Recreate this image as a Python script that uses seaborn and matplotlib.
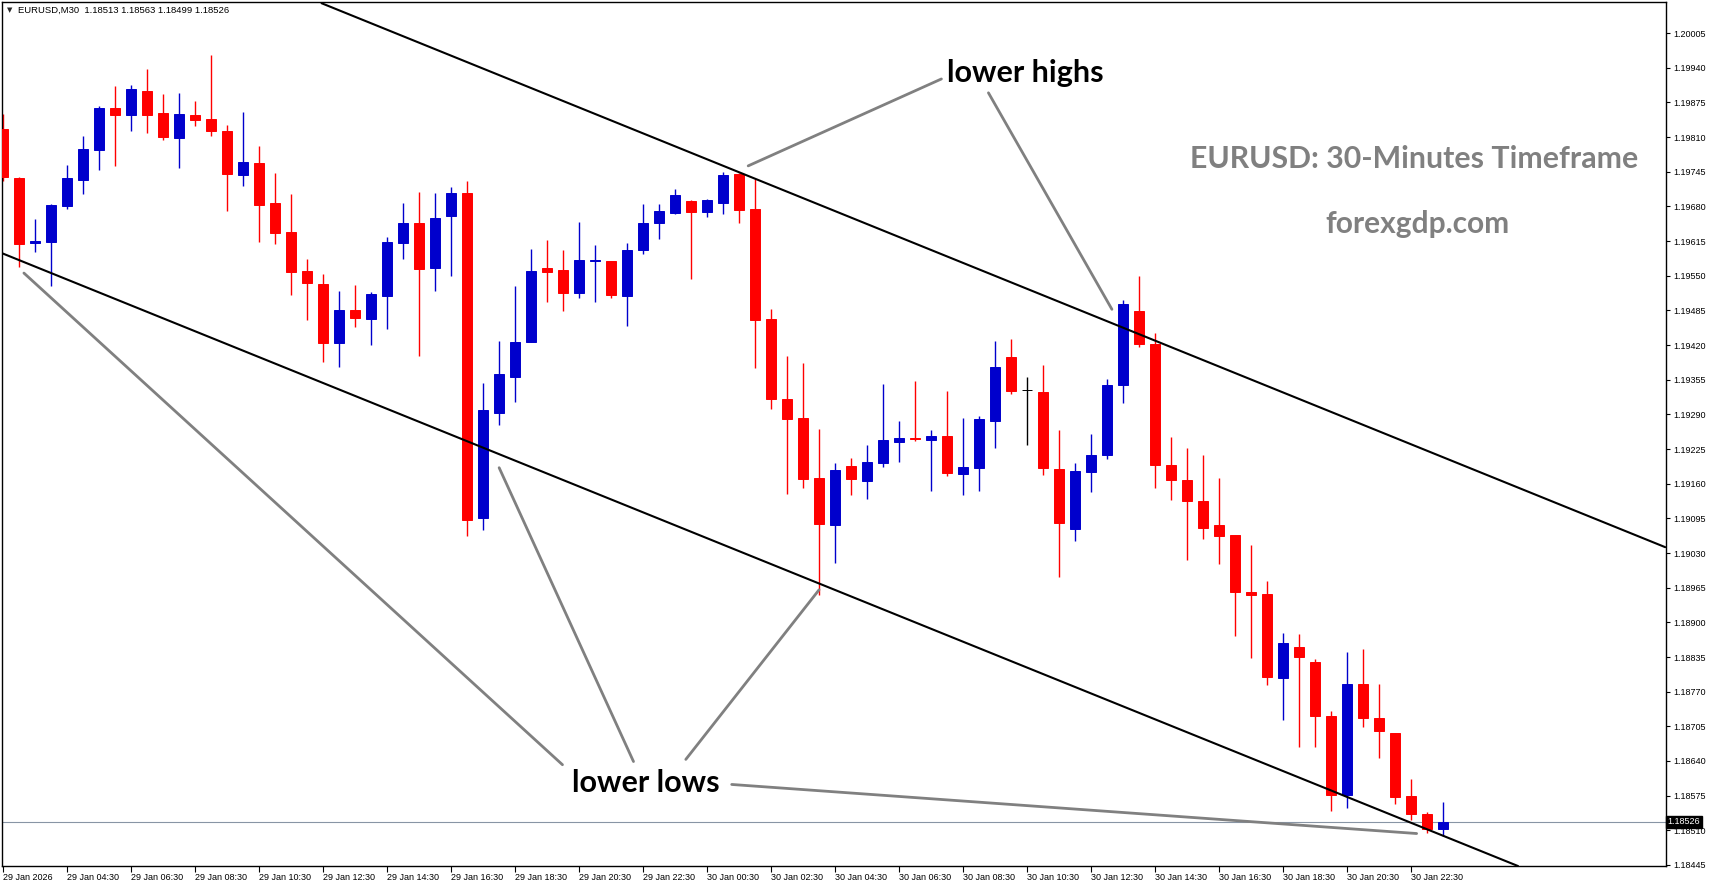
import numpy as np
import matplotlib
matplotlib.use('Agg')
import matplotlib.pyplot as plt
import seaborn as sns

# EURUSD M30 candles, 29 Jan 02:30 -> 30 Jan 23:30
opens = [1.19825, 1.19733, 1.19612, 1.19613, 1.19681, 1.19730, 1.19786, 1.19864, 1.19852, 1.19896,
         1.19855, 1.19808, 1.19851, 1.19844, 1.19821, 1.19739, 1.19761, 1.19686, 1.19632, 1.19559,
         1.19534, 1.19424, 1.19486, 1.19469, 1.19512, 1.19611, 1.19649, 1.19564, 1.19662, 1.19705,
         1.19096, 1.19293, 1.19361, 1.19426, 1.19564, 1.19561, 1.19518, 1.19578, 1.19578, 1.19512,
         1.19599, 1.19649, 1.19668, 1.19690, 1.19670, 1.19687, 1.19741, 1.19675, 1.19469, 1.19319,
         1.19283, 1.19171, 1.19083, 1.19193, 1.19165, 1.19198, 1.19238, 1.19246, 1.19242, 1.19249,
         1.19178, 1.19189, 1.19278, 1.19398, 1.19336, 1.19332, 1.19188, 1.19075, 1.19182, 1.19214,
         1.19346, 1.19483, 1.19422, 1.19195, 1.19167, 1.19127, 1.19082, 1.19064, 1.18957, 1.18953,
         1.18796, 1.18854, 1.18826, 1.18724, 1.18576, 1.18784, 1.18721, 1.18692, 1.18574, 1.18540,
         1.18513]
highs = [1.19854, 1.19735, 1.19656, 1.19685, 1.19757, 1.19812, 1.19868, 1.19906, 1.19908, 1.19937,
         1.19890, 1.19892, 1.19877, 1.19964, 1.19832, 1.19857, 1.19793, 1.19742, 1.19703, 1.19581,
         1.19553, 1.19521, 1.19532, 1.19519, 1.19622, 1.19686, 1.19707, 1.19705, 1.19716, 1.19728,
         1.19349, 1.19428, 1.19531, 1.19600, 1.19617, 1.19598, 1.19651, 1.19608, 1.19578, 1.19611,
         1.19684, 1.19684, 1.19713, 1.19692, 1.19694, 1.19744, 1.19742, 1.19731, 1.19487, 1.19400,
         1.19386, 1.19263, 1.19199, 1.19209, 1.19233, 1.19347, 1.19278, 1.19353, 1.19261, 1.19334,
         1.19283, 1.19287, 1.19428, 1.19431, 1.19360, 1.19383, 1.19261, 1.19199, 1.19253, 1.19356,
         1.19504, 1.19549, 1.19442, 1.19247, 1.19227, 1.19214, 1.19171, 1.19064, 1.19045, 1.18977,
         1.18880, 1.18878, 1.18831, 1.18734, 1.18844, 1.18850, 1.18784, 1.18692, 1.18606, 1.18545,
         1.18563]
lows = [1.19728, 1.19567, 1.19594, 1.19530, 1.19675, 1.19703, 1.19748, 1.19755, 1.19821, 1.19817,
        1.19804, 1.19752, 1.19830, 1.19812, 1.19671, 1.19718, 1.19613, 1.19609, 1.19514, 1.19467,
        1.19389, 1.19379, 1.19454, 1.19420, 1.19450, 1.19581, 1.19399, 1.19521, 1.19549, 1.19061,
        1.19074, 1.19271, 1.19314, 1.19426, 1.19501, 1.19484, 1.19509, 1.19501, 1.19509, 1.19456,
        1.19591, 1.19619, 1.19666, 1.19544, 1.19661, 1.19666, 1.19649, 1.19377, 1.19301, 1.19141,
        1.19151, 1.18951, 1.19011, 1.19139, 1.19131, 1.19191, 1.19201, 1.19240, 1.19146, 1.19174,
        1.19139, 1.19146, 1.19227, 1.19328, 1.19232, 1.19176, 1.18985, 1.19052, 1.19144, 1.19206,
        1.19312, 1.19416, 1.19152, 1.19129, 1.19017, 1.19056, 1.19009, 1.18874, 1.18833, 1.18782,
        1.18717, 1.18666, 1.18666, 1.18547, 1.18552, 1.18704, 1.18646, 1.18560, 1.18530, 1.18505,
        1.18499]
closes = [1.19736, 1.19610, 1.19615, 1.19682, 1.19733, 1.19787, 1.19864, 1.19852, 1.19900, 1.19852,
          1.19810, 1.19853, 1.19842, 1.19821, 1.19741, 1.19763, 1.19682, 1.19630, 1.19557, 1.19536,
          1.19424, 1.19486, 1.19471, 1.19516, 1.19613, 1.19649, 1.19562, 1.19658, 1.19705, 1.19092,
          1.19298, 1.19366, 1.19426, 1.19559, 1.19557, 1.19518, 1.19579, 1.19580, 1.19514, 1.19598,
          1.19649, 1.19671, 1.19701, 1.19670, 1.19692, 1.19739, 1.19673, 1.19467, 1.19319, 1.19282,
          1.19169, 1.19085, 1.19186, 1.19168, 1.19201, 1.19242, 1.19246, 1.19244, 1.19249, 1.19180,
          1.19191, 1.19281, 1.19379, 1.19334, 1.19336, 1.19189, 1.19086, 1.19184, 1.19214, 1.19345,
          1.19497, 1.19422, 1.19196, 1.19167, 1.19127, 1.19077, 1.19062, 1.18957, 1.18952, 1.18798,
          1.18861, 1.18835, 1.18724, 1.18576, 1.18784, 1.18721, 1.18696, 1.18572, 1.18540, 1.18513,
          1.18526]

time_labels = ['29 Jan 2026', '29 Jan 04:30', '29 Jan 06:30', '29 Jan 08:30', '29 Jan 10:30',
               '29 Jan 12:30', '29 Jan 14:30', '29 Jan 16:30', '29 Jan 18:30', '29 Jan 20:30',
               '29 Jan 22:30', '30 Jan 00:30', '30 Jan 02:30', '30 Jan 04:30', '30 Jan 06:30',
               '30 Jan 08:30', '30 Jan 10:30', '30 Jan 12:30', '30 Jan 14:30', '30 Jan 16:30',
               '30 Jan 18:30', '30 Jan 20:30', '30 Jan 22:30']

# channel lines (bar index, price)
upper_x = [19.9, 103.9]
upper_y = [1.20061, 1.19041]
lower_x = [-0.06, 94.7]
lower_y = [1.19592, 1.18443]

# annotation pointers: label point -> target point
highs_ptr = [[(58.65, 1.19919), (46.57, 1.19756)],
             [(61.59, 1.19893), (69.31, 1.19487)]]
lows_ptr = [[(34.96, 1.18633), (1.29, 1.19555)],
            [(39.40, 1.18639), (31.00, 1.19190)],
            [(42.67, 1.18643), (51.00, 1.18961)],
            [(45.54, 1.18596), (88.36, 1.18504)]]

bull = '#0000CC'
bear = '#FF0000'

sns.set_theme(style='white')
plt.rcParams['font.family'] = ['Liberation Sans', 'DejaVu Sans']

fig = plt.figure(figsize=(17.13, 8.88), dpi=100)
ax = fig.add_axes([2 / 1713, 22 / 888, 1664 / 1713, 864 / 888])

x = np.arange(len(opens))
o = np.array(opens)
c = np.array(closes)
colors = [bull if cc > oo else (bear if cc < oo else 'black') for oo, cc in zip(o, c)]

# wicks
ax.vlines(x, lows, highs, colors=colors, linewidth=1.0, zorder=2)
# bodies
ax.bar(x, np.abs(c - o), bottom=np.minimum(o, c), width=0.62, color=colors,
       edgecolor=colors, linewidth=0.7, zorder=3)

# channel lines
sns.lineplot(x=upper_x, y=upper_y, ax=ax, color='black', linewidth=1.5, zorder=4)
sns.lineplot(x=lower_x, y=lower_y, ax=ax, color='black', linewidth=1.5, zorder=4)

for (p0, p1) in highs_ptr + lows_ptr:
    ax.plot([p0[0], p1[0]], [p0[1], p1[1]], color='#808080', linewidth=2.0, zorder=4)

# current price line
ax.axhline(closes[-1], color='#8895a5', linewidth=0.8, zorder=1)

lab_font = ['Lato', 'DejaVu Sans']
ax.text(63.9, 1.19930, 'lower highs', family=lab_font, fontweight='bold',
        fontsize=22, ha='center', va='center', color='black', zorder=5)
ax.text(40.2, 1.18598, 'lower lows', family=lab_font, fontweight='bold',
        fontsize=22, ha='center', va='center', color='black', zorder=5)
ax.text(88.2, 1.19768, 'EURUSD: 30-Minutes Timeframe', family=lab_font,
        fontweight='bold', fontsize=21.8, ha='center', va='center', color='#808080', zorder=5)
ax.text(88.4, 1.19647, 'forexgdp.com', family=lab_font,
        fontweight='bold', fontsize=21.5, ha='center', va='center', color='#808080', zorder=5)

ax.set_xlim(-0.08, 103.95)
ax.set_ylim(1.184431, 1.200633)

yticks = np.round(np.arange(1.18445, 1.20006, 0.00065), 5)
ax.set_yticks(yticks)
ax.set_yticklabels([f'{v:.5f}' for v in yticks])
ax.yaxis.tick_right()
ax.tick_params(axis='y', direction='out', length=3, width=0.8, labelsize=6.5, pad=2,
               colors='black', right=True, left=False)

ax.set_xticks(np.arange(0, len(opens), 4))
ax.set_xticklabels(time_labels)
ax.tick_params(axis='x', direction='out', length=4, width=0.8, labelsize=6.5, pad=1,
               colors='black', bottom=True)
for lbl in ax.get_xticklabels():
    lbl.set_ha('left')

for sp in ax.spines.values():
    sp.set_color('black')
    sp.set_linewidth(1.0)
ax.grid(False)
ax.set_xlabel('')
ax.set_ylabel('')

# last price box on the price scale
ax.text(1.001, closes[-1], f'{closes[-1]:.5f}', transform=ax.get_yaxis_transform(),
        ha='left', va='center', fontsize=6.5, color='white', zorder=10, clip_on=False,
        bbox=dict(facecolor='black', edgecolor='black', pad=1.2))

# header line
fig.text(7 / 1713, 1 - 10 / 888, '\u25bc', fontsize=5, va='center', ha='left',
         family=['DejaVu Sans'])
fig.text(18 / 1713, 1 - 10 / 888, 'EURUSD,M30  1.18513 1.18563 1.18499 1.18526',
         fontsize=6.8, va='center', ha='left', color='black')

plt.savefig('out.png', dpi=100)
